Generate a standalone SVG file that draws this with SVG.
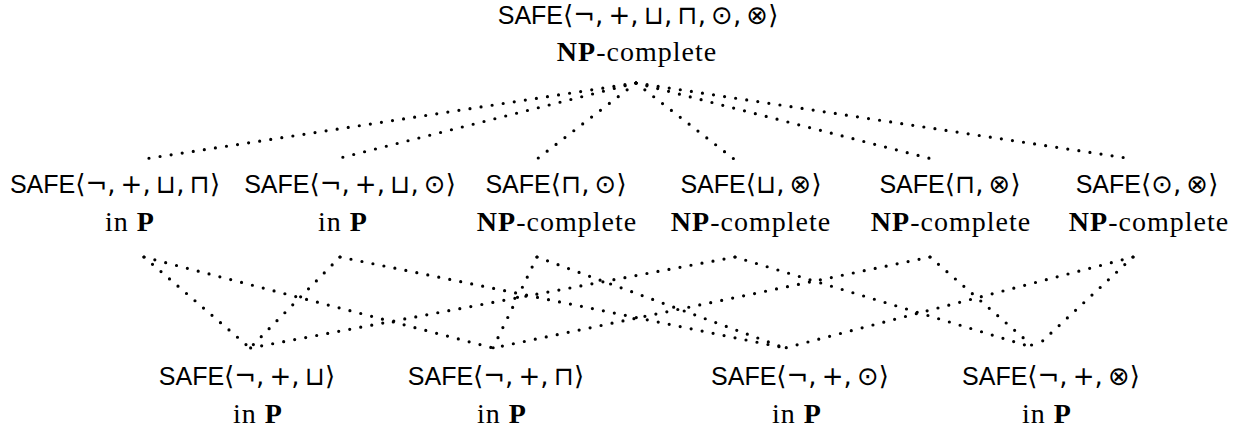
<svg xmlns="http://www.w3.org/2000/svg" width="1244" height="431" viewBox="0 0 1244 431">
  <style>
    .sf { font-family: "Liberation Sans", Arial, sans-serif; }
    .m { font-family: "DejaVu Sans", "Noto Sans", sans-serif; font-size: 26px; }
    .rm { font-family: "Liberation Serif", "Times New Roman", serif; }
    .bf { font-family: "Liberation Serif", "Times New Roman", serif; font-weight: bold; }
    .l1 { font-size: 25px; fill: #000; text-anchor: middle; }
    .l2 { font-size: 28px; fill: #000; text-anchor: middle; letter-spacing: 1px; }
    .dot { fill: none; stroke: #000; stroke-width: 3.2; stroke-linecap: round; stroke-dasharray: 0 11.2; }
  </style>

  <!-- dotted connectors -->
  <g id="connectors">
    <!-- top node to each class of the middle row -->
    <path class="dot" d="M636,83 L144,159"/>
    <path class="dot" d="M636,83 L336,159"/>
    <path class="dot" d="M636,83 L537,159"/>
    <path class="dot" d="M636,83 L734,159"/>
    <path class="dot" d="M636,83 L932,159"/>
    <path class="dot" d="M636,83 L1133,159"/>
    <!-- middle row to bottom row -->
    <path class="dot" d="M144,257 L250,348"/>
    <path class="dot" d="M144,257 L493,348"/>
    <path class="dot" d="M340,257 L250,348"/>
    <path class="dot" d="M340,257 L785,348"/>
    <path class="dot" d="M537,257 L493,348"/>
    <path class="dot" d="M537,257 L785,348"/>
    <path class="dot" d="M735,257 L250,348"/>
    <path class="dot" d="M735,257 L1035,348"/>
    <path class="dot" d="M930,257 L493,348"/>
    <path class="dot" d="M930,257 L1035,348"/>
    <path class="dot" d="M1133,257 L785,348"/>
    <path class="dot" d="M1133,257 L1035,348"/>
  </g>

  <!-- top -->
  <g id="n-all">
    <text class="l1" x="638" y="24"><tspan class="sf">SAFE</tspan><tspan class="m">⟨¬,&#8201;+,&#8201;⊔,&#8201;⊓,&#8201;⊙,&#8201;⊗⟩</tspan></text>
    <text class="l2" x="637" y="61"><tspan class="bf">NP</tspan><tspan class="rm">-complete</tspan></text>
  </g>

  <!-- middle row -->
  <g id="n-neg-plus-sqcup-sqcap">
    <text class="l1" x="115" y="193"><tspan class="sf">SAFE</tspan><tspan class="m">⟨¬,&#8201;+,&#8201;⊔,&#8201;⊓⟩</tspan></text>
    <text class="l2" x="130" y="231"><tspan class="rm">in </tspan><tspan class="bf">P</tspan></text>
  </g>
  <g id="n-neg-plus-sqcup-odot">
    <text class="l1" x="350" y="193"><tspan class="sf">SAFE</tspan><tspan class="m">⟨¬,&#8201;+,&#8201;⊔,&#8201;⊙⟩</tspan></text>
    <text class="l2" x="343" y="231"><tspan class="rm">in </tspan><tspan class="bf">P</tspan></text>
  </g>
  <g id="n-sqcap-odot">
    <text class="l1" x="556" y="193"><tspan class="sf">SAFE</tspan><tspan class="m">⟨⊓,&#8201;⊙⟩</tspan></text>
    <text class="l2" x="557" y="231"><tspan class="bf">NP</tspan><tspan class="rm">-complete</tspan></text>
  </g>
  <g id="n-sqcup-otimes">
    <text class="l1" x="751" y="193"><tspan class="sf">SAFE</tspan><tspan class="m">⟨⊔,&#8201;⊗⟩</tspan></text>
    <text class="l2" x="751" y="231"><tspan class="bf">NP</tspan><tspan class="rm">-complete</tspan></text>
  </g>
  <g id="n-sqcap-otimes">
    <text class="l1" x="950" y="193"><tspan class="sf">SAFE</tspan><tspan class="m">⟨⊓,&#8201;⊗⟩</tspan></text>
    <text class="l2" x="951" y="231"><tspan class="bf">NP</tspan><tspan class="rm">-complete</tspan></text>
  </g>
  <g id="n-odot-otimes">
    <text class="l1" x="1147" y="193"><tspan class="sf">SAFE</tspan><tspan class="m">⟨⊙,&#8201;⊗⟩</tspan></text>
    <text class="l2" x="1149" y="231"><tspan class="bf">NP</tspan><tspan class="rm">-complete</tspan></text>
  </g>

  <!-- bottom row -->
  <g id="n-neg-plus-sqcup">
    <text class="l1" x="247" y="385"><tspan class="sf">SAFE</tspan><tspan class="m">⟨¬,&#8201;+,&#8201;⊔⟩</tspan></text>
    <text class="l2" x="258" y="423"><tspan class="rm">in </tspan><tspan class="bf">P</tspan></text>
  </g>
  <g id="n-neg-plus-sqcap">
    <text class="l1" x="496" y="385"><tspan class="sf">SAFE</tspan><tspan class="m">⟨¬,&#8201;+,&#8201;⊓⟩</tspan></text>
    <text class="l2" x="502" y="423"><tspan class="rm">in </tspan><tspan class="bf">P</tspan></text>
  </g>
  <g id="n-neg-plus-odot">
    <text class="l1" x="800" y="385"><tspan class="sf">SAFE</tspan><tspan class="m">⟨¬,&#8201;+,&#8201;⊙⟩</tspan></text>
    <text class="l2" x="797" y="423"><tspan class="rm">in </tspan><tspan class="bf">P</tspan></text>
  </g>
  <g id="n-neg-plus-otimes">
    <text class="l1" x="1051" y="385"><tspan class="sf">SAFE</tspan><tspan class="m">⟨¬,&#8201;+,&#8201;⊗⟩</tspan></text>
    <text class="l2" x="1047" y="423"><tspan class="rm">in </tspan><tspan class="bf">P</tspan></text>
  </g>
</svg>
